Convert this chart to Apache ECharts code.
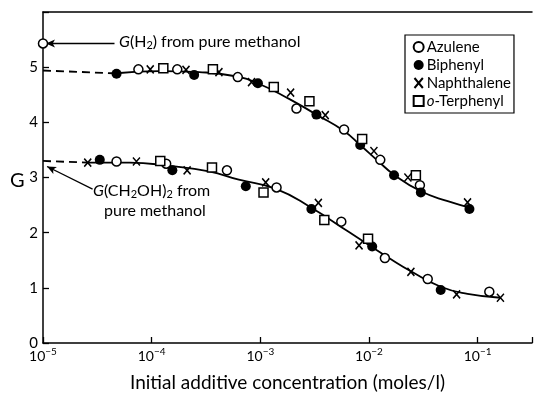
<!DOCTYPE html>
<html><head><meta charset="utf-8">
<script src="https://cdn.jsdelivr.net/npm/echarts@6/dist/echarts.min.js"></script>
<style>html,body{margin:0;padding:0;background:#fff}#c{width:535px;height:397px}</style>
</head><body><div id="c"></div>
<script>
// ---- data (concentration in moles/l, G value) ----
const xTickExponents = [-5, -4, -3, -2, -1];
const yTicks = [0, 1, 2, 3, 4, 5];
// G(H2) branch
const h2Azulene     = [[7.55e-5,4.96],[1.72e-4,4.96],[6.2e-4,4.82],[2.15e-3,4.25],[5.9e-3,3.87],[1.27e-2,3.32],[2.94e-2,2.86]];
const h2Biphenyl    = [[4.75e-5,4.88],[2.46e-4,4.86],[9.5e-4,4.71],[3.28e-3,4.14],[8.3e-3,3.59],[1.7e-2,3.04],[3.0e-2,2.73],[8.4e-2,2.43]];
const h2Naphthalene = [[9.7e-5,4.96],[2.07e-4,4.95],[4.16e-4,4.91],[8.3e-4,4.73],[1.9e-3,4.54],[3.96e-3,4.13],[1.11e-2,3.48],[2.28e-2,3.0],[8.07e-2,2.55]];
const h2Terphenyl   = [[1.28e-4,4.98],[3.66e-4,4.96],[1.33e-3,4.64],[2.83e-3,4.38],[8.65e-3,3.70],[2.7e-2,3.04]];
// G(CH2OH)2 branch
const glyAzulene     = [[4.75e-5,3.29],[1.36e-4,3.25],[4.93e-4,3.13],[1.41e-3,2.82],[5.56e-3,2.20],[1.40e-2,1.54],[3.47e-2,1.16],[0.128,0.93]];
const glyBiphenyl    = [[3.33e-5,3.32],[1.55e-4,3.13],[7.35e-4,2.84],[2.95e-3,2.43],[1.07e-2,1.75],[4.57e-2,0.96]];
const glyNaphthalene = [[2.58e-5,3.27],[7.24e-5,3.29],[2.12e-4,3.13],[1.12e-3,2.91],[3.42e-3,2.54],[8.1e-3,1.77],[2.43e-2,1.29],[6.4e-2,0.88],[0.162,0.82]];
const glyTerphenyl   = [[1.2e-4,3.30],[3.59e-4,3.18],[1.07e-3,2.73],[3.88e-3,2.23],[9.8e-3,1.89]];
// fitted curves
const h2Curve = [[4.75e-5,4.89],[1.175e-4,4.93],[2.73e-4,4.91],[5.71e-4,4.84],[9.66e-4,4.70],[1.82e-3,4.43],[3.28e-3,4.14],[5.92e-3,3.84],[8.3e-3,3.59],[1.21e-2,3.30],[1.70e-2,3.05],[3.0e-2,2.75],[5.3e-2,2.57],[8.6e-2,2.45]];
const h2Dashed = [[1e-5,4.94],[4.4e-5,4.89]];
const glyCurve = [[2.58e-5,3.27],[6.25e-5,3.27],[1.45e-4,3.21],[3.37e-4,3.11],[6.34e-4,2.96],[1.41e-3,2.79],[2.95e-3,2.45],[6.44e-3,2.02],[1.045e-2,1.75],[1.50e-2,1.55],[2.43e-2,1.30],[4.57e-2,1.02],[8.07e-2,0.89],[0.162,0.82]];
const glyDashed = [[1e-5,3.30],[2.58e-5,3.27]];
// pure methanol value and annotation arrows
const pureH2 = [[1e-5,5.43]];
const h2Arrow = [[4.55e-5,5.43],[1.065e-5,5.43]];
const glyArrow = [[2.86e-5,2.79],[1.09e-5,3.20]];

const L = d => d.map(p => [Math.log10(p[0]), p[1]]);
const FONT = 'Lato';
const xPath = 'path://M0,0L10,12M10,0L0,12';

const chart = echarts.init(document.getElementById('c'), null, {renderer:'canvas'});
const markerStyle = {
  Azulene: {symbol:'circle', symbolSize:9, itemStyle:{color:'#fff', borderColor:'#000', borderWidth:1.5, opacity:1}},
  Biphenyl: {symbol:'circle', symbolSize:10, itemStyle:{color:'#000', borderColor:'#000', borderWidth:0, opacity:1}},
  Naphthalene: {symbol:xPath, symbolSize:[7,8], itemStyle:{color:'none', borderColor:'#000', borderWidth:1.6, opacity:1}},
  'o-Terphenyl': {symbol:'rect', symbolSize:9, itemStyle:{color:'#fff', borderColor:'#000', borderWidth:1.5, opacity:1}}
};
const pts = {
  Azulene: h2Azulene.concat(glyAzulene),
  Biphenyl: h2Biphenyl.concat(glyBiphenyl),
  Naphthalene: h2Naphthalene.concat(glyNaphthalene),
  'o-Terphenyl': h2Terphenyl.concat(glyTerphenyl)
};
const scatterSeries = Object.keys(pts).map(name => Object.assign({
  name, type:'scatter', data:L(pts[name]), z:5, clip:false, emphasis:{disabled:true}
}, markerStyle[name]));

const lineBase = {type:'line', symbol:'none', smooth:true, z:2, silent:true,
  lineStyle:{color:'#000', width:1.8}};

chart.setOption({
  animation:false,
  textStyle:{fontFamily:FONT},
  grid:{left:43, top:12, right:0, bottom:49, containLabel:false},
  legend:{
    data:['Azulene','Biphenyl','Naphthalene','o-Terphenyl'],
    orient:'vertical', left:405, top:35,
    borderColor:'#000', borderWidth:1.2, padding:[4,3,4,7],
    itemGap:2, itemWidth:10, itemHeight:10,
    textStyle:{fontFamily:FONT, fontSize:15, color:'#000', lineHeight:16, padding:[0,0,0,-2],
      rich:{i:{fontStyle:'italic', fontFamily:FONT, fontSize:15}}},
    formatter: n => n === 'o-Terphenyl' ? '{i|o}-Terphenyl' : n
  },
  xAxis:[{
    type:'value', min:-5, max:-0.5, interval:1,
    axisLine:{lineStyle:{color:'#000', width:1.5}},
    axisTick:{inside:true, length:6, lineStyle:{color:'#000', width:1.3}},
    splitLine:{show:false},
    axisLabel:{margin:4, color:'#000',
      formatter: v => xTickExponents.includes(v) ? '{b|10}{s|−' + Math.abs(v) + '}' : '',
      rich:{b:{fontSize:14, fontFamily:FONT, color:'#000'}, s:{fontSize:10, fontFamily:FONT, color:'#000', padding:[0,0,8,0]}}},
    name:'Initial additive concentration (moles/l)', nameLocation:'middle', nameGap:30,
    nameTextStyle:{fontSize:19, fontFamily:FONT, color:'#000'}
  },{
    type:'value', position:'top', min:-5, max:-0.5,
    axisLine:{lineStyle:{color:'#000', width:1.5}}, axisTick:{show:false}, axisLabel:{show:false}, splitLine:{show:false}
  }],
  yAxis:{
    type:'value', min:0, max:6, interval:1,
    axisLine:{lineStyle:{color:'#000', width:1.5}},
    axisTick:{inside:true, length:6, lineStyle:{color:'#000', width:1.3}},
    splitLine:{show:false},
    axisLabel:{margin:5, fontSize:15, fontFamily:FONT, color:'#000',
      formatter: v => yTicks.includes(v) ? String(v) : ''}
  },
  graphic:[
    {type:'text', left:10, top:171, style:{text:'G', fontSize:20, fontFamily:FONT, fill:'#000'}},
    {type:'text', left:119, top:34, style:{
      text:'{i|G}(H{sub|2}) from pure methanol', fill:'#000',
      font:'16px ' + FONT,
      rich:{i:{fontStyle:'italic', fontSize:16, fontFamily:FONT}, sub:{fontSize:11, fontFamily:FONT, padding:[6,0,0,0]}}}},
    {type:'text', left:93, top:183, style:{
      text:'{i|G}(CH{sub|2}OH){sub|2} from', fill:'#000',
      font:'16px ' + FONT,
      rich:{i:{fontStyle:'italic', fontSize:16, fontFamily:FONT}, sub:{fontSize:11, fontFamily:FONT, padding:[6,0,0,0]}}}},
    {type:'text', left:104, top:203, style:{text:'pure methanol', fill:'#000', font:'16px ' + FONT}}
  ],
  series:[
    Object.assign({}, lineBase, {data:L(h2Curve)}),
    Object.assign({}, lineBase, {data:L(glyCurve)}),
    Object.assign({}, lineBase, {smooth:false, data:L(h2Dashed), lineStyle:{color:'#000', width:1.8, type:[8,5]}}),
    Object.assign({}, lineBase, {smooth:false, data:L(glyDashed), lineStyle:{color:'#000', width:1.8, type:[8,5]}}),
    {type:'scatter', data:L(pureH2), symbol:'circle', symbolSize:9, clip:false, z:6,
      itemStyle:{color:'#fff', borderColor:'#000', borderWidth:1.5, opacity:1}, silent:true,
      markLine:{silent:true, symbol:['none','arrow'], symbolSize:[6,9], label:{show:false},
        lineStyle:{color:'#000', width:1.3, type:'solid'},
        data:[
          [{coord:L(h2Arrow)[0]},{coord:L(h2Arrow)[1]}],
          [{coord:L(glyArrow)[0]},{coord:L(glyArrow)[1]}]
        ]}}
  ].concat(scatterSeries)
});
</script></body></html>
